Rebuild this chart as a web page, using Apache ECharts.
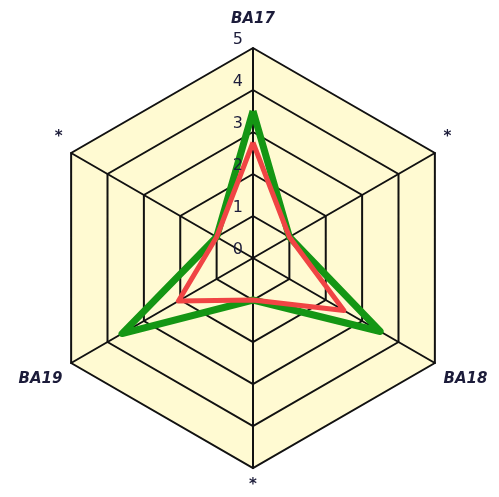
<!DOCTYPE html>
<html>
<head>
<meta charset="utf-8">
<script src="https://cdn.jsdelivr.net/npm/echarts@6/dist/echarts.min.js"></script>
<style>
	html, body { margin: 0; padding: 0; background: #fff; }
	#radar-chart { width: 499px; height: 497px; }
</style>
</head>
<body>
<div id="radar-chart"></div>
<script>
	// indicators in ECharts order (counter-clockwise from top)
	var indicatorNames = ['BA17', '*', 'BA19', '*', 'BA18', '*'];
	var axisMax = 5;
	var tickLabels = ['0', '1', '2', '3', '4', '5'];
	var greenValues = [3.5, 1, 3.6, 1, 3.5, 1];
	var redValues = [2.75, 1, 2.05, 1, 2.5, 1];
	// which names sit higher (up) or lower (down) than the default spot
	var namePos = ['top', 'up', 'down', 'mid', 'down', 'up'];

	var chart = echarts.init(document.getElementById('radar-chart'));
	var center = [253, 258];
	var radius = 210;

	var nameStyle = {
		color: '#1c1c3a',
		fontSize: 15,
		fontStyle: 'italic',
		fontWeight: 'bold',
		fontFamily: 'DejaVu Sans'
	};

	var option = {
		animation: false,
		polar: {
			center: center,
			radius: radius
		},
		angleAxis: {
			show: false,
			startAngle: 90
		},
		radiusAxis: {
			min: 0,
			max: axisMax,
			interval: 1,
			axisLine: { show: false },
			axisTick: { show: false },
			splitLine: { show: false },
			axisLabel: {
				color: '#1c1c3a',
				fontSize: 16,
				fontFamily: 'DejaVu Sans',
				verticalAlign: 'bottom',
				lineHeight: 16,
				margin: 10,
				formatter: function(v) {
					return tickLabels[v];
				}
			},
			z: 10
		},
		radar: {
			center: center,
			radius: radius,
			shape: 'polygon',
			splitNumber: 5,
			startAngle: 90,
			indicator: indicatorNames.map(function(n, i) {
				return { name: n, max: axisMax, min: 0, pos: namePos[i] };
			}),
			axisName: {
				color: '#1c1c3a',
				fontSize: 15,
				fontStyle: 'italic',
				fontWeight: 'bold',
				fontFamily: 'DejaVu Sans',
				formatter: function(name, ind) {
					return '{' + ind.pos + '|' + name + '}';
				},
				rich: {
					top: Object.assign({ padding: [0, 0, 11, 0] }, nameStyle),
					up: Object.assign({ padding: [0, 0, 22, 0] }, nameStyle),
					down: Object.assign({ padding: [22, 0, 0, 0] }, nameStyle),
					mid: Object.assign({}, nameStyle)
				}
			},
			nameGap: 10,
			splitArea: {
				areaStyle: { color: ['#fffad2'] }
			},
			splitLine: {
				lineStyle: { color: '#111', width: 2 }
			},
			axisLine: {
				lineStyle: { color: '#111', width: 2 }
			}
		},
		series: [{
			type: 'radar',
			symbol: 'none',
			data: [{
				value: greenValues,
				lineStyle: { color: '#149614', width: 7 }
			}, {
				value: redValues,
				lineStyle: { color: '#f04444', width: 5 }
			}]
		}]
	};
	chart.setOption(option);
</script>
</body>
</html>
